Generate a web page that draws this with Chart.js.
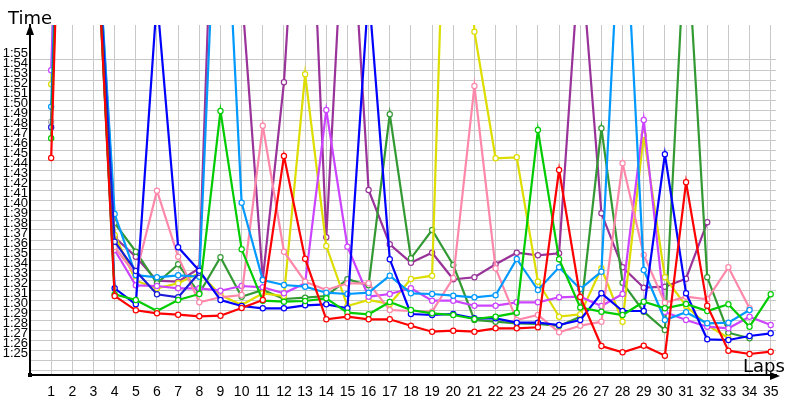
<!DOCTYPE html>
<html>
<head>
<meta charset="utf-8">
<script src="https://cdn.jsdelivr.net/npm/chart.js@4"></script>
<style>
  html, body { margin: 0; padding: 0; background: #fff; }
  #box { width: 800px; height: 400px; }
</style>
</head>
<body>
<div id="box"><canvas id="lapChart"></canvas></div>
<script>
// lap numbers (x axis)
var laps = [];
for (var n = 1; n <= 35; n++) laps.push(n);

// y grid (seconds), labels only from 1:25 to 1:55
var yGrid = [];
for (var s = 84; s <= 115; s++) yGrid.push(s);

// lap times in seconds, one list per car (lap 2-3 and spikes are off the top)
var red = [105.2, 175, 134, 91.4, 89.97, 89.67, 89.53, 89.37, 89.43, 90.2, 91.0, 105.4, 95.13, 89.07, 89.33, 89.07, 89.07, 88.43, 87.83, 87.93, 87.83, 88.17, 88.17, 88.27, 104.0, 91.3, 86.4, 85.77, 86.43, 85.43, 102.77, 90.43, 85.93, 85.6, 85.83];
var green = [107.17, 175, 134, 91.57, 91.0, 89.9, 91.0, 91.6, 109.9, 96.07, 90.93, 90.83, 90.9, 91.17, 89.73, 89.57, 90.8, 90.0, 89.67, 89.5, 89.1, 89.33, 89.73, 108.0, 95.07, 90.25, 89.83, 89.5, 90.83, 90.17, 90.6, 89.9, 90.57, 88.33, 91.57];
var blue = [121, 175, 134, 92.17, 90.57, 121.2, 96.27, 93.93, 91.0, 90.4, 90.17, 90.17, 90.47, 90.57, 90.17, 122, 95.07, 89.6, 89.5, 89.6, 89.17, 89.17, 88.73, 88.73, 88.5, 89.0, 91.67, 89.9, 89.9, 105.57, 91.67, 87.07, 87.0, 87.4, 87.67];
var navy = [108.27, 175, 134, 96.83, 93.9, 91.57, 91.27, 93.73];
var lightBlue = [110.33, 175, 134, 99.6, 93.5, 93.27, 93.47, 93.33, 143, 100.73, 93.0, 92.5, 92.33, 91.73, 91.6, 91.73, 93.43, 91.67, 91.6, 91.43, 91.27, 91.47, 95.1, 92.0, 94.27, 92.1, 93.83, 135, 94.0, 89.0, 89.77, 88.67, 88.73, 90.0, null];
var pink = [122, 175, 134, 96.3, 93.5, 101.93, 95.33, 90.77, 91.27, 91.5, 108.43, 95.83, 92.83, 92.0, 92.67, 92.67, 90.0, 89.9, 89.83, 93.2, 112.4, 94.17, 89.0, 89.5, 87.77, 88.43, 88.83, 104.67, 95.5, 90.73, 91.33, 91.07, 94.27, 90.17, null];
var violet = [113.97, 175, 134, 96.0, 92.47, 92.4, 92.17, 92.17, 91.93, 92.4, 92.27, 91.67, 92.67, 110.0, 96.33, 91.33, 91.6, 92.17, 90.93, 90.93, 90.43, 90.43, 90.77, 90.77, 91.27, 91.33, 90.4, 91.6, 109.0, 89.8, 89.0, 88.33, 88.17, 89.33, 88.5];
var yellow = [112.57, 175, 134, 97.5, 92.93, 92.17, 92.67, 93.7, 91.5, 90.5, 91.67, 91.4, 113.57, 96.4, 90.4, 91.0, 90.6, 93.1, 93.43, 160, 117.83, 105.17, 105.27, 92.83, 89.33, 89.57, 94.17, 88.83, 107.5, 93.27, 90.4, 88.5, 87.2, null, null];
var darkGreen = [122, 175, 134, 98.7, 95.83, 92.67, 94.57, 91.67, 95.27, 91.33, 92.0, 91.1, 91.23, 91.4, 93.07, 92.47, 109.57, 95.17, 98.0, 94.5, 89.0, 88.83, 88.67, 88.6, 88.4, 89.33, 108.17, 92.73, 89.83, 88.0, 129, 93.27, 87.73, 87.17, null];
var purple = [122, 175, 134, 97.27, 95.33, 92.93, 92.83, 94.17, 155, 122, 93.07, 112.77, 147, 97.27, 137, 102.0, 96.57, 94.73, 95.73, 93.07, 93.27, 94.57, 95.73, 95.47, 95.67, 126.5, 99.67, 94.27, 92.23, 92.33, 93.13, 98.77, null, null, null];
var gray = [108.83, 175];

var cars = [
    { data: red, color: '#ff0000' },
    { data: green, color: '#00cc00' },
    { data: blue, color: '#0000ff' },
    { data: navy, color: '#1c1cd8' },
    { data: lightBlue, color: '#0099ff' },
    { data: pink, color: '#ff88aa' },
    { data: violet, color: '#cc44ff' },
    { data: yellow, color: '#dddd00' },
    { data: darkGreen, color: '#339933' },
    { data: purple, color: '#993399' },
    { data: gray, color: '#aaaaaa' }
];

function toClock(v) {
    var m = Math.floor(v / 60), sec = Math.round(v - m * 60);
    return m + ':' + (sec < 10 ? '0' : '') + sec;
}

var datasets = cars.map(function (car) {
    return {
        data: car.data.map(function (v, i) { return { x: laps[i], y: v }; }),
        borderColor: car.color,
        backgroundColor: '#ffffff',
        borderWidth: 2.2,
        pointRadius: 2.6,
        pointBorderWidth: 1.2,
        pointBorderColor: car.color,
        pointBackgroundColor: '#ffffff',
        tension: 0,
        spanGaps: false,
        clip: { left: 5, top: 0, right: 0, bottom: 0 }
    };
});

// axis titles, arrows, origin dot
var axisDecor = {
    id: 'axisDecor',
    afterDraw: function (chart) {
        var ctx = chart.ctx, a = chart.chartArea;
        ctx.save();
        ctx.fillStyle = '#000';
        ctx.beginPath();
        ctx.moveTo(a.left, a.top - 1);
        ctx.lineTo(a.left - 4, a.top + 10);
        ctx.lineTo(a.left + 4, a.top + 10);
        ctx.closePath();
        ctx.fill();
        ctx.beginPath();
        ctx.moveTo(a.right + 4, a.bottom + 1);
        ctx.lineTo(a.right - 6, a.bottom - 3);
        ctx.lineTo(a.right - 6, a.bottom + 5);
        ctx.closePath();
        ctx.fill();
        ctx.fillRect(a.left - 2, a.bottom - 2, 4, 4);
        ctx.font = '18px "DejaVu Sans"';
        ctx.textBaseline = 'alphabetic';
        ctx.textAlign = 'left';
        ctx.fillText('Time', 8, 24);
        ctx.fillText('Laps', 743, 372);
        ctx.restore();
    }
};

new Chart(document.getElementById('lapChart'), {
    type: 'line',
    data: { datasets: datasets },
    plugins: [axisDecor],
    options: {
        responsive: true,
        maintainAspectRatio: false,
        animation: false,
        layout: { padding: { top: 25, right: 24, left: 0, bottom: 0 } },
        plugins: { legend: { display: false }, tooltip: { enabled: false } },
        scales: {
            x: {
                type: 'linear',
                min: 0,
                max: 35.25,
                afterBuildTicks: function (scale) {
                    scale.ticks = laps.map(function (l) { return { value: l }; });
                },
                afterFit: function (scale) { scale.height = 25; },
                grid: { color: '#c8c8c8', lineWidth: 1, drawTicks: false },
                border: { color: '#000', width: 2 },
                ticks: {
                    autoSkip: false,
                    maxRotation: 0,
                    padding: 9,
                    color: '#000',
                    font: { family: 'Liberation Sans', size: 14 }
                }
            },
            y: {
                type: 'linear',
                min: 83.5,
                max: 118.5,
                afterBuildTicks: function (scale) {
                    scale.ticks = yGrid.map(function (v) { return { value: v }; });
                },
                afterFit: function (scale) { scale.width = 30; },
                grid: { color: '#c8c8c8', lineWidth: 1, drawTicks: false },
                border: { color: '#000', width: 2 },
                ticks: {
                    autoSkip: false,
                    padding: 2,
                    labelOffset: -7,
                    color: '#000',
                    font: { family: 'Liberation Sans', size: 13 },
                    callback: function (v) { return v < 85 ? '' : toClock(v); }
                }
            }
        }
    }
});
</script>
</body>
</html>
